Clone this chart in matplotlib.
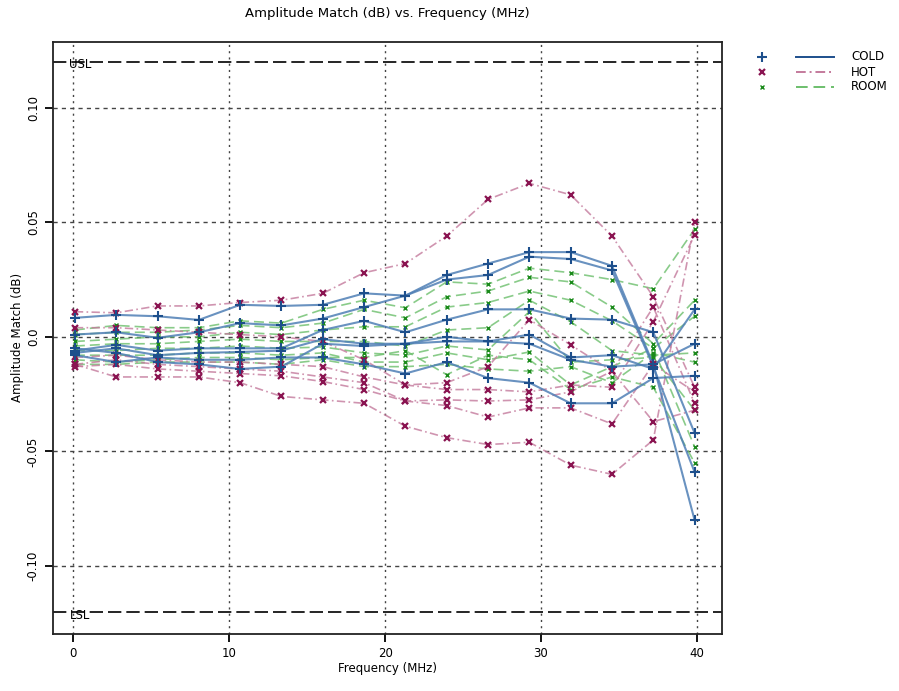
import numpy as np
import matplotlib.pyplot as plt
from matplotlib.lines import Line2D

# frequency points (MHz)
freq = [0.1, 2.75, 5.4, 8.05, 10.7, 13.35, 16.0, 18.65, 21.3, 23.95,
        26.6, 29.25, 31.9, 34.55, 37.2, 39.85]

# COLD runs
cold = [
    [0.0083, 0.0096, 0.009, 0.0074, 0.014, 0.0135, 0.014, 0.019, 0.018, 0.027, 0.032, 0.037, 0.037, 0.031, -0.012, -0.080],
    [0.001, 0.002, -0.0004, 0.002, 0.006, 0.005, 0.008, 0.013, 0.018, 0.025, 0.027, 0.035, 0.034, 0.029, -0.013, -0.059],
    [-0.006, -0.0035, -0.006, -0.005, -0.005, -0.005, 0.003, 0.007, 0.002, 0.0075, 0.012, 0.012, 0.008, 0.0075, 0.002, -0.042],
    [-0.007, -0.005, -0.008, -0.007, -0.0066, -0.006, -0.001, -0.003, -0.003, 0.000, -0.002, 0.001, -0.009, -0.008, -0.014, 0.012],
    [-0.005, -0.007, -0.011, -0.012, -0.014, -0.013, -0.003, -0.004, -0.003, -0.002, -0.002, -0.003, -0.010, -0.013, -0.012, -0.003],
    [-0.008, -0.011, -0.009, -0.010, -0.010, -0.009, -0.009, -0.012, -0.016, -0.011, -0.018, -0.020, -0.029, -0.029, -0.018, -0.017],
]

# HOT runs
hot = [
    [0.011, 0.0105, 0.0135, 0.0135, 0.015, 0.016, 0.019, 0.028, 0.032, 0.044, 0.060, 0.067, 0.062, 0.044, 0.0175, -0.022],
    [0.004, 0.004, 0.003, 0.002, 0.001, 0.000, -0.002, -0.010, -0.021, -0.020, -0.013, 0.0075, -0.0035, -0.015, 0.013, -0.029],
    [-0.009, -0.008, -0.010, -0.011, -0.011, -0.012, -0.013, -0.0175, -0.021, -0.023, -0.023, -0.024, -0.021, -0.022, 0.0066, 0.0445],
    [-0.012, -0.010, -0.012, -0.013, -0.014, -0.015, -0.0175, -0.020, -0.028, -0.0275, -0.028, -0.0275, -0.024, -0.015, -0.037, -0.032],
    [-0.013, -0.012, -0.014, -0.015, -0.016, -0.017, -0.0195, -0.023, -0.028, -0.030, -0.035, -0.031, -0.031, -0.038, -0.012, -0.024],
    [-0.012, -0.0175, -0.0175, -0.0175, -0.020, -0.026, -0.0275, -0.029, -0.039, -0.044, -0.047, -0.046, -0.056, -0.060, -0.045, 0.050],
]

# ROOM runs
room = [
    [0.003, 0.005, 0.004, 0.004, 0.007, 0.006, 0.012, 0.016, 0.0127, 0.024, 0.023, 0.030, 0.028, 0.025, 0.021, 0.047],
    [0.001, 0.002, 0.002, 0.003, 0.005, 0.004, 0.006, 0.012, 0.0083, 0.0175, 0.020, 0.026, 0.024, 0.013, -0.003, 0.016],
    [-0.002, -0.001, 0.000, 0.000, 0.002, 0.001, 0.003, 0.0044, 0.0044, 0.013, 0.015, 0.020, 0.016, 0.007, -0.005, 0.009],
    [-0.004, -0.003, -0.003, -0.002, -0.001, -0.002, -0.002, -0.002, -0.004, 0.003, 0.004, 0.016, 0.0066, -0.006, -0.008, -0.007],
    [-0.006, -0.006, -0.005, -0.005, -0.004, -0.005, -0.0044, -0.007, -0.008, -0.004, -0.0057, 0.011, -0.011, -0.010, -0.009, -0.032],
    [-0.008, -0.008, -0.008, -0.007, -0.007, -0.008, -0.007, -0.011, -0.011, -0.007, -0.010, -0.0066, -0.021, -0.013, -0.005, -0.048],
    [-0.010, -0.011, -0.010, -0.009, -0.009, -0.010, -0.009, -0.009, -0.006, -0.0165, -0.008, -0.010, -0.023, -0.0175, -0.022, -0.055],
    [-0.012, -0.012, -0.011, -0.011, -0.011, -0.012, -0.010, -0.013, -0.013, -0.012, -0.014, -0.015, -0.013, -0.020, -0.007, -0.011],
]

usl = 0.12
lsl = -0.12

# colours
c_cold, c_cold_ln = '#1d4f8c', '#4f7fb5'
c_hot, c_hot_ln = '#8a1451', '#c47a9c'
c_room, c_room_ln = '#1a8a1a', '#6cbf6c'

plt.rcParams['font.family'] = 'DejaVu Sans'
fig = plt.figure(figsize=(8.99, 6.91), dpi=100)
ax = fig.add_axes([0.059, 0.0825, 0.744, 0.857])

# grid first so data goes on top
for gx in [0, 10, 20, 30, 40]:
    ax.axvline(gx, color='#444444', ls=(0, (1.5, 3)), lw=1, zorder=0)
for gy in [-0.10, -0.05, 0.0, 0.05, 0.10]:
    ax.axhline(gy, color='#444444', ls=(0, (3, 3)), lw=1, zorder=0)

for s in room:
    ax.plot(freq, s, color=c_room_ln, ls=(0, (6, 3)), lw=1.2, alpha=0.8, zorder=2)
    ax.plot(freq, s, ls='none', marker='x', ms=3.5, mew=1, color=c_room, zorder=4)
for s in hot:
    ax.plot(freq, s, color=c_hot_ln, ls=(0, (5, 2, 1, 2)), lw=1.2, alpha=0.8, zorder=2)
    ax.plot(freq, s, ls='none', marker='x', ms=5, mew=1.6, color=c_hot, zorder=4)
for s in cold:
    ax.plot(freq, s, color=c_cold_ln, ls='-', lw=1.5, alpha=0.85, zorder=3)
    ax.plot(freq, s, ls='none', marker='+', ms=7, mew=1.5, color=c_cold, zorder=5)

# spec limits
ax.axhline(usl, color='black', ls=(0, (8, 3)), lw=1.2, zorder=1)
ax.axhline(lsl, color='black', ls=(0, (8, 3)), lw=1.2, zorder=1)
ax.text(0.45, usl - 0.001, 'USL', fontsize=8.5, va='center', ha='center')
ax.text(0.45, lsl - 0.0015, 'LSL', fontsize=8.5, va='center', ha='center')

ax.set_xlim(-1.3, 41.6)
ax.set_ylim(-0.1297, 0.1288)
ax.set_xticks([0, 10, 20, 30, 40])
ax.set_yticks([-0.10, -0.05, 0.0, 0.05, 0.10])
ax.set_yticklabels(['-0.10', '-0.05', '0.0', '0.05', '0.10'], rotation=90, va='center')
ax.tick_params(direction='out', length=6, width=1.3, labelsize=8.5, colors='black')
for sp in ax.spines.values():
    sp.set_linewidth(1.3)
    sp.set_color('#222222')

ax.set_xlabel('Frequency (MHz)', fontsize=8.5, labelpad=1)
ax.set_ylabel('Amplitude Match (dB)', fontsize=8.5, labelpad=2)
ax.set_title('Amplitude Match (dB) vs. Frequency (MHz)', fontsize=9.5, pad=18)

# legend drawn in figure coordinates
leg_names = ['COLD', 'HOT', 'ROOM']
leg_mk = [('+', c_cold, 7, 1.5), ('x', c_hot, 5, 1.6), ('x', c_room, 3.5, 1)]
leg_ln = [(c_cold, '-'), (c_hot_ln, (0, (5, 2, 1, 2))), (c_room_ln, (0, (6, 3)))]
W, H = 899, 691
for i, name in enumerate(leg_names):
    yy = 1 - (57 + i * 15) / H
    m, col, ms, mew = leg_mk[i]
    fig.add_artist(Line2D([762 / W], [yy], marker=m, color=col, ms=ms, mew=mew, ls='none'))
    lc, ls = leg_ln[i]
    fig.add_artist(Line2D([796 / W, 834 / W], [yy, yy], color=lc, ls=ls, lw=1.4))
    fig.text(851 / W, yy, name, fontsize=8.5, va='center', ha='left')

fig.savefig('out.png', dpi=100)
